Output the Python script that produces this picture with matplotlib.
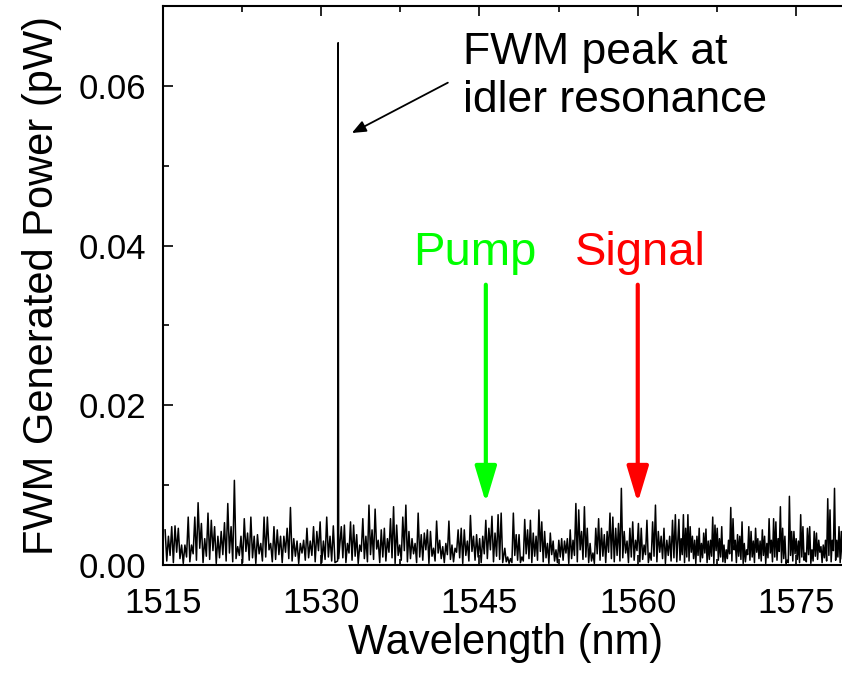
import matplotlib.pyplot as plt
import numpy as np

plt.rcParams['font.family'] = ['Liberation Sans', 'DejaVu Sans']

# noise floor, in units of 1e-3 pW (peak / dip pairs)
peaks1 = [4.4, 3.6, 4.8, 4.9, 4.6, 2.5, 2.5, 6.0, 2.5, 6.0, 7.8, 5.2, 3.3, 6.5, 5.6, 4.8, 3.6, 4.2,
          5.3, 7.7, 4.8, 10.6, 2.3, 3.6, 5.8, 4.0, 6.0, 3.6, 3.8, 2.7, 6.0, 6.0, 2.7, 4.8, 4.4, 3.6,
          3.6, 4.6, 7.2, 3.3, 3.0, 2.7, 3.1, 4.6, 3.0, 4.8, 4.2, 5.4, 3.0, 6.0, 3.6, 4.9]
dips1 = [0.5, 1.2, 0.3, 1.6, 0.8, 0.2, 1.0, 0.4, 1.4, 0.6, 2.1, 0.3, 1.1, 0.7, 1.8, 0.2, 0.9, 1.3,
         0.5, 1.5, 0.4, 0.8, 1.2, 0.3, 1.7, 0.6, 0.9, 0.2, 1.4, 0.5, 1.0, 1.9, 0.4, 0.7, 1.3, 0.3,
         1.6, 0.8, 0.5, 1.1, 0.2, 1.5, 0.6, 0.9, 1.2, 0.4, 1.8, 0.3, 0.7, 1.0, 0.5, 0.3]
peaks2 = [4.8, 5.0, 2.7, 5.4, 5.0, 3.8, 2.5, 5.8, 3.6, 7.5, 4.4, 7.0, 3.1, 4.4, 4.6, 3.3, 5.8, 7.3,
          5.0, 2.5, 6.0, 7.5, 4.2, 3.3, 2.7, 6.5, 3.8, 4.0, 4.4, 4.2, 2.1, 5.5, 3.1, 2.3, 2.7, 5.5,
          2.5, 2.1, 4.4, 4.6, 4.4, 3.0, 6.2, 3.6, 3.8, 3.3, 3.6, 5.6, 4.6, 6.1, 4.0, 6.3, 6.5]
dips2 = [0.9, 0.3, 1.5, 0.6, 1.1, 0.2, 1.7, 0.8, 0.4, 1.3, 0.7, 2.0, 0.3, 1.0, 0.5, 1.6, 0.9, 0.2,
         1.2, 0.6, 1.8, 0.4, 0.8, 1.4, 0.3, 1.0, 0.6, 1.9, 0.2, 1.1, 0.5, 1.5, 0.8, 0.3, 1.3, 0.7,
         0.4, 1.6, 0.9, 0.2, 1.2, 0.5, 1.7, 0.6, 1.0, 0.3, 1.4, 0.8, 1.9, 0.4, 1.1, 0.7, 0.3]
peaks3 = [2.1, 1.0, 0.8, 6.5, 3.8, 3.8, 1.0, 5.7, 4.4, 5.6, 4.0, 3.6, 6.9, 5.4, 4.2, 2.7, 4.0, 3.0,
          1.9, 3.1, 3.3, 3.0, 3.3, 4.4, 3.1, 7.7, 6.9, 4.2, 7.3, 4.6, 2.7, 1.5, 4.6, 5.8, 4.6, 3.8,
          4.2, 6.5, 6.0, 4.6, 5.2, 9.6, 4.2, 3.0, 4.6, 5.4, 3.1, 5.2, 4.6, 2.5, 5.6, 1.5, 5.4, 7.5,
          4.2, 3.6, 4.6, 3.1, 3.6, 5.6, 6.3]
dips3 = [0.4, 0.2, 0.3, 1.2, 0.6, 0.3, 0.5, 1.4, 0.8, 0.3, 1.1, 0.6, 1.7, 0.4, 0.9, 0.2, 1.3, 0.5,
         0.3, 1.0, 0.6, 1.5, 0.2, 0.8, 1.2, 0.4, 1.9, 0.7, 1.0, 0.3, 0.5, 0.2, 1.4, 0.6, 1.1, 0.3,
         1.6, 0.8, 0.4, 1.2, 0.5, 0.9, 1.5, 0.3, 1.0, 0.6, 1.8, 0.4, 0.7, 1.3, 0.3, 0.6, 1.1, 0.4,
         1.6, 0.8, 0.2, 1.2, 0.5, 0.9, 0.4]
peaks4 = [5.7, 3.3, 6.3, 4.6, 6.3, 4.8, 3.6, 3.1, 3.6, 4.6, 2.7, 4.0, 4.5, 3.0, 3.1, 6.0, 5.0, 4.6,
          3.3, 4.8, 2.5, 1.9, 3.1, 7.2, 5.8, 3.1, 3.8, 3.6, 5.4, 2.7, 1.9, 4.8, 4.2, 3.0, 4.6, 3.3,
          3.0, 4.4, 3.6, 2.7, 5.8, 3.1, 5.8, 5.4, 3.3, 7.3, 4.6, 3.6, 0.6, 8.6, 4.2, 4.2, 3.3, 3.0,
          6.3, 4.8, 1.5, 4.6, 4.8, 1.9, 4.2, 4.0, 3.1, 2.3, 2.5, 3.1, 8.3, 6.9, 3.1, 9.6, 3.1, 4.8, 4.2]
dips4 = [0.6, 1.3, 0.3, 1.0, 0.5, 1.6, 0.8, 0.2, 1.2, 0.4, 0.9, 1.5, 0.3, 0.7, 1.1, 0.2, 1.8, 0.6,
         1.0, 0.4, 0.3, 0.8, 1.4, 0.5, 1.9, 0.3, 1.1, 0.7, 0.2, 0.4, 1.3, 0.6, 1.0, 0.3, 1.6, 0.8,
         0.5, 1.2, 0.2, 0.9, 1.5, 0.4, 1.0, 0.6, 1.7, 0.3, 0.8, 0.2, 0.3, 1.2, 0.5, 1.4, 0.7, 0.3,
         1.0, 0.6, 0.4, 1.3, 0.2, 0.5, 1.1, 0.7, 1.6, 0.3, 0.9, 0.5, 1.2, 0.4, 1.8, 0.6, 1.0, 0.3, 0.8]
# wavelength span (nm) of each noise stretch
spans = [(1515.2, 1531.3), (1531.9, 1547.2), (1547.4, 1563.7), (1563.9, 1579.4)]

# FWM idler peak
idler_wl = [1531.55, 1531.6, 1531.65]
idler_val = [0.5, 65.4, 0.8]

pump_wl = 1545.6
signal_wl = 1560.0


def segment(peaks, dips, span):
    vals = np.empty(2 * len(peaks))
    vals[0::2] = peaks
    vals[1::2] = dips
    wl = np.linspace(span[0], span[1], len(vals))
    return wl, vals


wl_all = []
p_all = []
segs = [(peaks1, dips1), (peaks2, dips2), (peaks3, dips3), (peaks4, dips4)]
for i, (pk, dp) in enumerate(segs):
    wl, v = segment(pk, dp, spans[i])
    wl_all.append(wl)
    p_all.append(v)
    if i == 0:
        wl_all.append(np.array(idler_wl))
        p_all.append(np.array(idler_val))
wl_all = np.concatenate(wl_all)
p_all = np.concatenate(p_all) * 1e-3

fig = plt.figure(figsize=(8.42, 6.76), dpi=100)
ax = fig.add_axes([0.1936, 0.1642, 0.8144, 0.8269])
ax.plot(wl_all, p_all, color='black', lw=1.1)

ax.set_xlim(1515, 1580)
ax.set_ylim(0, 0.07)
ax.set_xticks([1515, 1530, 1545, 1560, 1575])
ax.set_xticks(np.arange(1522.5, 1580, 15), minor=True)
ax.set_yticks([0.0, 0.02, 0.04, 0.06])
ax.set_yticks([0.01, 0.03, 0.05], minor=True)
ax.set_yticklabels(['0.00', '0.02', '0.04', '0.06'])
ax.tick_params(which='both', direction='in', top=True, right=False, labelsize=25, width=1.2)
ax.tick_params(which='major', length=7)
ax.tick_params(which='minor', length=4)
ax.tick_params(axis='x', which='major', pad=16)
ax.tick_params(axis='y', which='major', pad=12)
for s in ax.spines.values():
    s.set_linewidth(1.5)

ax.set_xlabel('Wavelength (nm)', fontsize=30, labelpad=2)
ax.set_ylabel('FWM Generated Power (pW)', fontsize=30, labelpad=12)

ax.text(1543.4, 0.0667, 'FWM peak at\nidler resonance', fontsize=32, ha='left', va='top',
        linespacing=1.2)
ax.annotate('', xy=(1532.9, 0.0541), xytext=(1542.0, 0.0604),
            arrowprops=dict(arrowstyle='-|>,head_length=0.6,head_width=0.25', color='black',
                            lw=1.3, mutation_scale=14, shrinkA=0, shrinkB=0))

ax.text(1544.6, 0.0376, 'Pump', color='#00ff00', fontsize=34, ha='center', va='baseline')
ax.text(1560.2, 0.0376, 'Signal', color='#ff0000', fontsize=34, ha='center', va='baseline')
for xw, c in [(pump_wl, '#00ff00'), (signal_wl, '#ff0000')]:
    ax.annotate('', xy=(xw, 0.0078), xytext=(xw, 0.0351),
                arrowprops=dict(arrowstyle='-|>,head_length=1.1,head_width=0.33', color=c,
                                lw=3, mutation_scale=20, shrinkA=0, shrinkB=0))

fig.savefig('out.png', dpi=100)
